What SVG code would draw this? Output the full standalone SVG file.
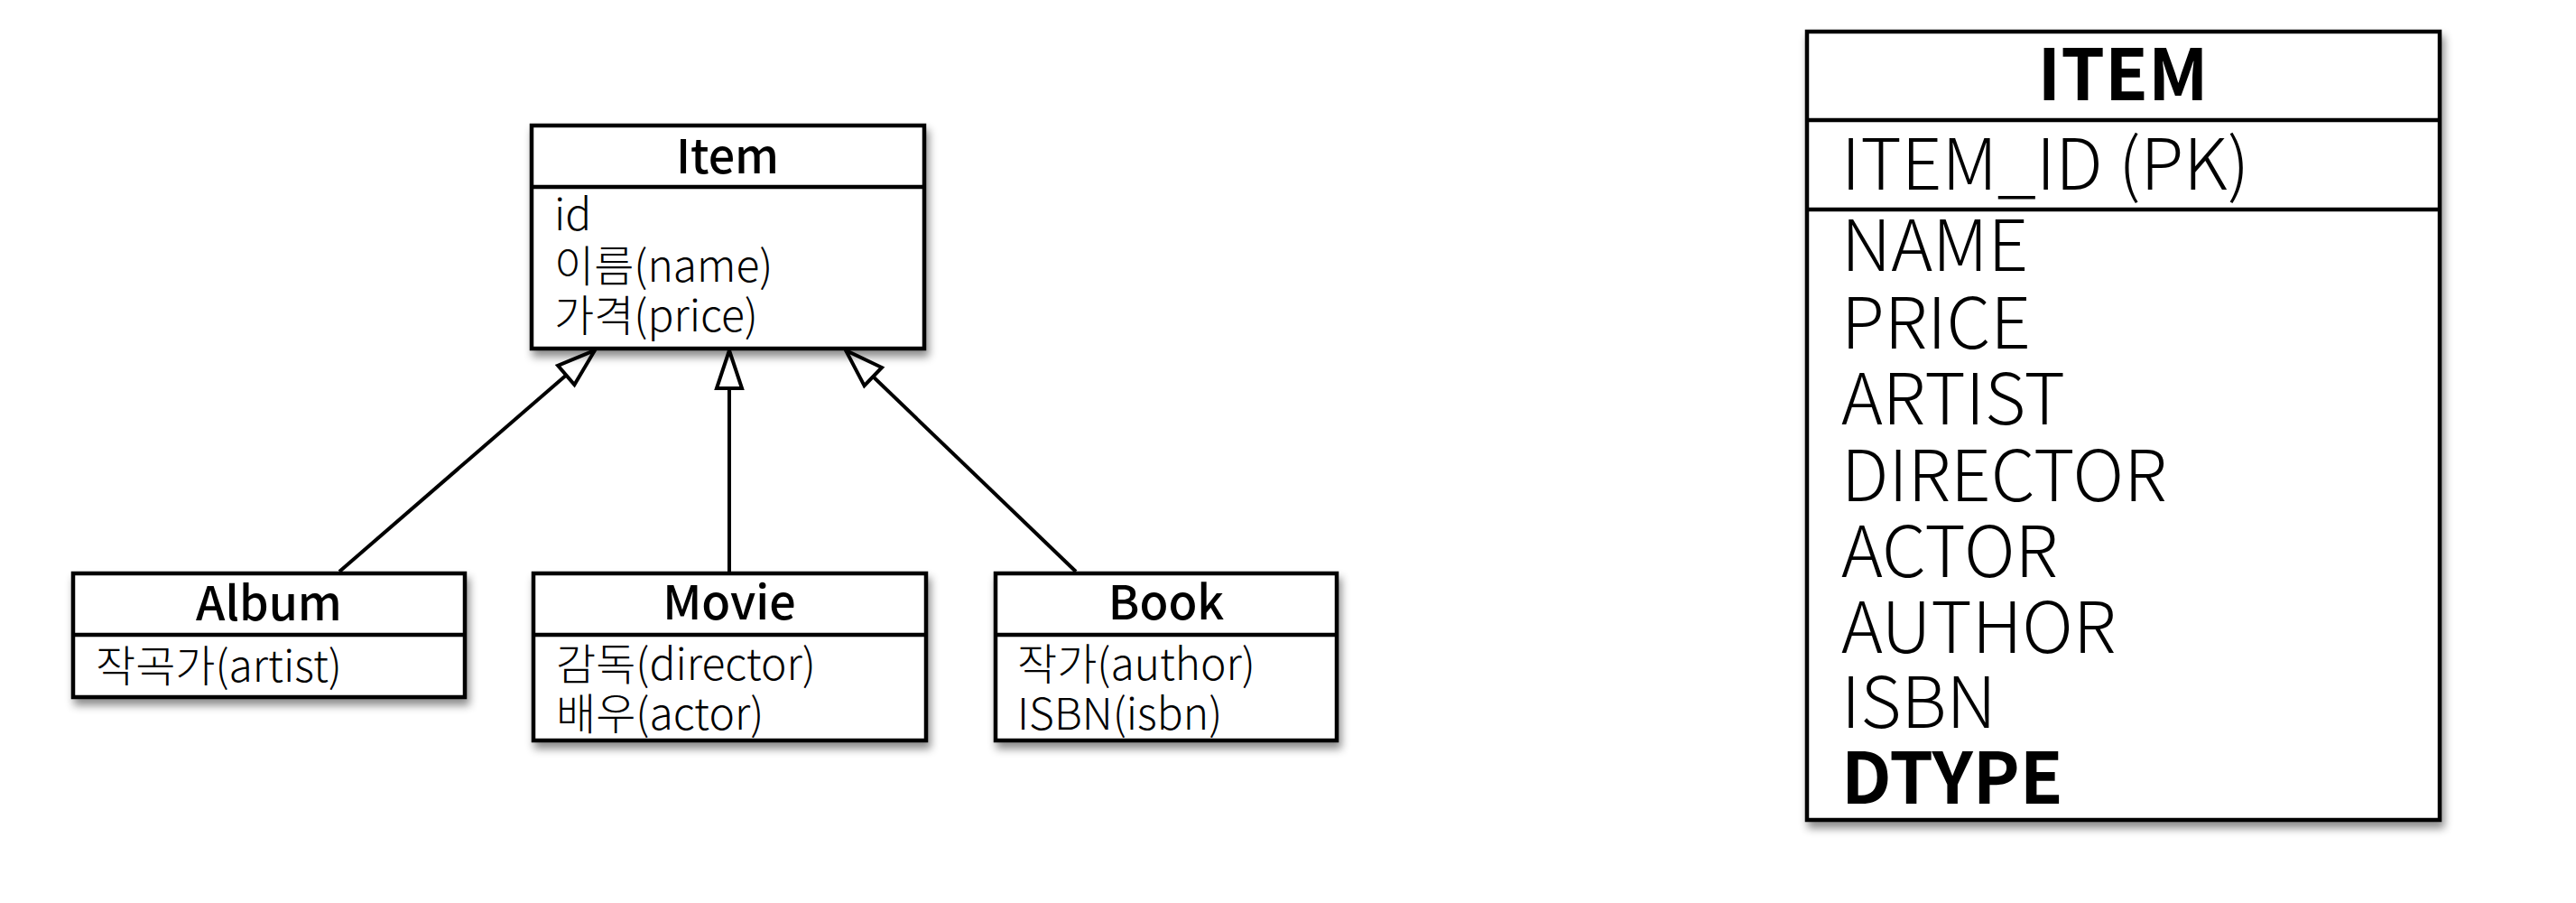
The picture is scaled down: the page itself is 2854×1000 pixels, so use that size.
<svg xmlns="http://www.w3.org/2000/svg" width="2854" height="1000" viewBox="0 0 2854 1000">
<style>
.box{fill:#fff;stroke:#000;stroke-width:4.5}
.div{stroke:#000;stroke-width:4.5}
.t{font-family:"Noto Sans CJK KR","Liberation Sans",sans-serif;fill:#000}
.title{font-size:52px;font-weight:500;text-anchor:middle}
.attr{font-size:48px;font-weight:300}
.big{font-size:78px;font-weight:300}
.bigb{font-size:78px;font-weight:bold}
.conn{stroke:#000;stroke-width:4;fill:none}
</style>
<defs>
<filter id="sh" x="-10%" y="-10%" width="130%" height="140%">
<feDropShadow dx="3" dy="7" stdDeviation="5" flood-color="#000" flood-opacity="0.45"/>
</filter>
<marker id="tri" markerUnits="userSpaceOnUse" markerWidth="50" markerHeight="40" viewBox="-4 -4 50 36" refX="42" refY="14" orient="auto">
<path d="M0,0 L42,14 L0,28 Z" fill="#fff" stroke="#000" stroke-width="4"/>
</marker>
</defs>
<rect width="2854" height="1000" fill="#fff"/>

<g id="connectors">
<path class="conn" d="M376,633 L659,388" marker-end="url(#tri)"/>
<path class="conn" d="M808,633 L808,388" marker-end="url(#tri)"/>
<path class="conn" d="M1192,633 L937,388" marker-end="url(#tri)"/>
</g>

<g id="item">
<rect class="box" x="589" y="139" width="435" height="247" filter="url(#sh)"/>
<line class="div" x1="589" y1="207" x2="1024" y2="207"/>
<text class="t title" x="806" y="192">Item</text>
<text class="t attr" x="614" y="255">id</text>
<text class="t attr" x="614" y="312">이름(name)</text>
<text class="t attr" x="614" y="367">가격(price)</text>
</g>

<g id="album">
<rect class="box" x="81" y="635" width="434" height="137" filter="url(#sh)"/>
<line class="div" x1="81" y1="703" x2="515" y2="703"/>
<text class="t title" x="298" y="687">Album</text>
<text class="t attr" x="106" y="755">작곡가(artist)</text>
</g>

<g id="movie">
<rect class="box" x="591" y="635" width="435" height="185" filter="url(#sh)"/>
<line class="div" x1="591" y1="703" x2="1026" y2="703"/>
<text class="t title" x="808" y="686">Movie</text>
<text class="t attr" x="616" y="753">감독(director)</text>
<text class="t attr" x="616" y="808">배우(actor)</text>
</g>

<g id="book">
<rect class="box" x="1103" y="635" width="378" height="185" filter="url(#sh)"/>
<line class="div" x1="1103" y1="703" x2="1481" y2="703"/>
<text class="t title" x="1292" y="686">Book</text>
<text class="t attr" x="1127" y="753">작가(author)</text>
<text class="t attr" x="1127" y="808">ISBN(isbn)</text>
</g>

<g id="item-table">
<rect class="box" x="2002" y="35" width="701" height="873" stroke-width="5" filter="url(#sh)"/>
<line class="div" x1="2002" y1="133" x2="2703" y2="133" stroke-width="5"/>
<line class="div" x1="2002" y1="232" x2="2703" y2="232" stroke-width="5"/>
<text class="t bigb" x="2352" y="111" text-anchor="middle">ITEM</text>
<text class="t big" x="2040" y="210">ITEM_ID (PK)</text>
<text class="t big" x="2040" y="300">NAME</text>
<text class="t big" x="2040" y="386">PRICE</text>
<text class="t big" x="2040" y="470">ARTIST</text>
<text class="t big" x="2040" y="555">DIRECTOR</text>
<text class="t big" x="2040" y="639">ACTOR</text>
<text class="t big" x="2040" y="723">AUTHOR</text>
<text class="t big" x="2040" y="806">ISBN</text>
<text class="t bigb" x="2040" y="890">DTYPE</text>
</g>
</svg>
